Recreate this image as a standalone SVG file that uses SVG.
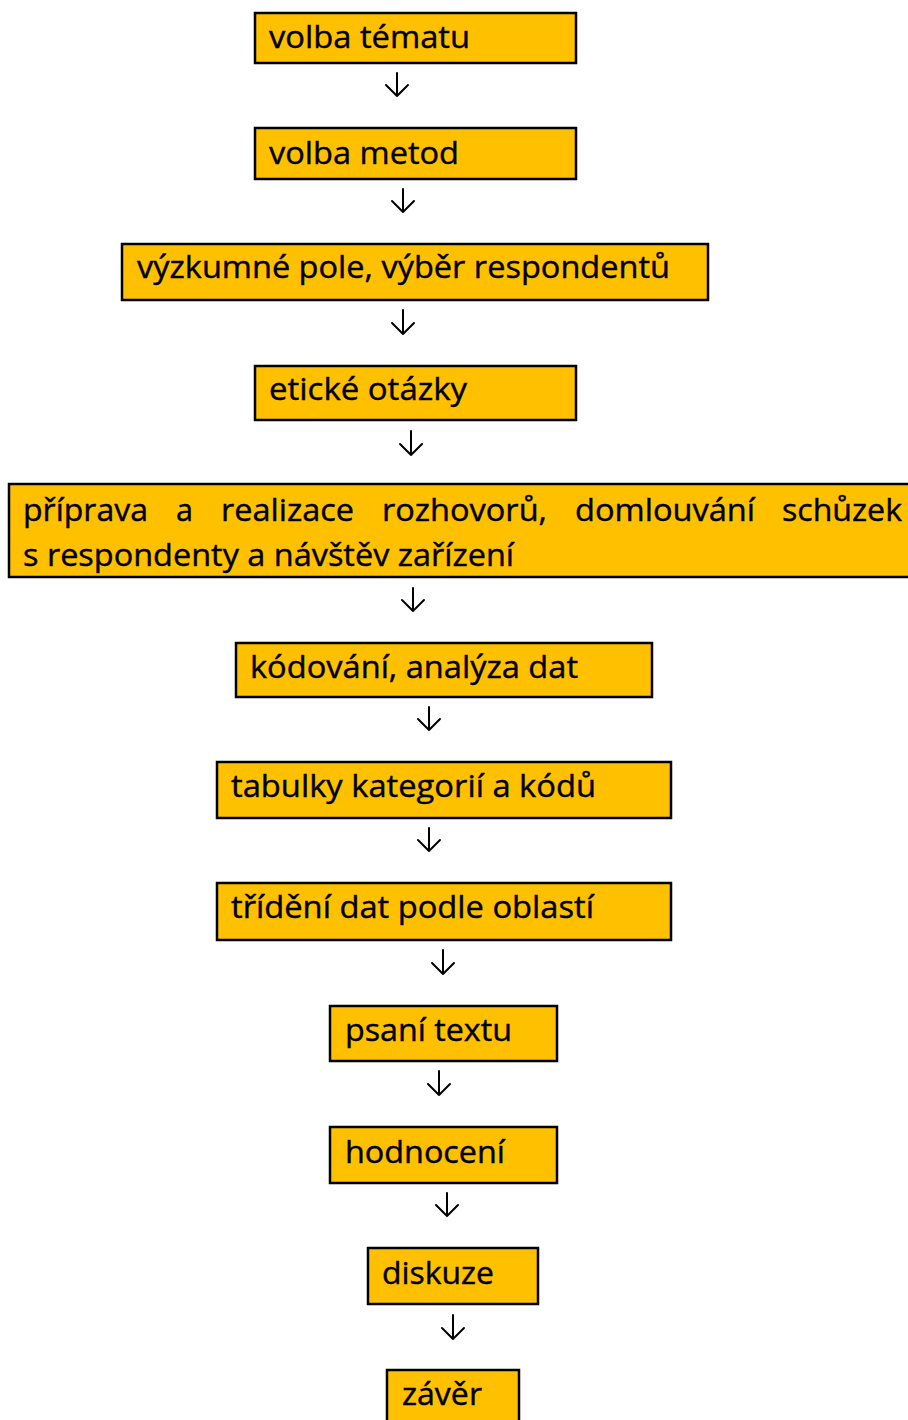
<svg xmlns="http://www.w3.org/2000/svg" width="908" height="1420" viewBox="0 0 908 1420">
<style>
.box{fill:#FFC000;stroke:#000;stroke-width:2.5}
.t{font-family:"Open Sans","Noto Sans","Liberation Sans",sans-serif;font-size:31px;fill:#000;stroke:#000;stroke-width:0.4}
.arr{fill:none;stroke:#000;stroke-width:2;stroke-linecap:round;stroke-linejoin:round}
</style>
<rect width="908" height="1420" fill="#fff"/>
<g id="n1"><rect class="box" x="255" y="13" width="321" height="50"/><text class="t" x="269" y="48" textLength="201" lengthAdjust="spacingAndGlyphs">volba tématu</text></g>
<g id="n2"><rect class="box" x="255" y="128" width="321" height="51"/><text class="t" x="269" y="164" textLength="190" lengthAdjust="spacingAndGlyphs">volba metod</text></g>
<g id="n3"><rect class="box" x="122" y="244" width="586" height="56"/><text class="t" x="137" y="278" textLength="533" lengthAdjust="spacingAndGlyphs">výzkumné pole, výběr respondentů</text></g>
<g id="n4"><rect class="box" x="255" y="366" width="321" height="54"/><text class="t" x="269" y="400" textLength="198" lengthAdjust="spacingAndGlyphs">etické otázky</text></g>
<g id="n5"><rect class="box" x="9" y="484" width="905" height="93"/>
<text class="t" y="521"><tspan x="23" textLength="125" lengthAdjust="spacingAndGlyphs">příprava</tspan><tspan x="176" textLength="17" lengthAdjust="spacingAndGlyphs">a</tspan><tspan x="221" textLength="133" lengthAdjust="spacingAndGlyphs">realizace</tspan><tspan x="382" textLength="165" lengthAdjust="spacingAndGlyphs">rozhovorů,</tspan><tspan x="575" textLength="180" lengthAdjust="spacingAndGlyphs">domlouvání</tspan><tspan x="782" textLength="120" lengthAdjust="spacingAndGlyphs">schůzek</tspan></text>
<text class="t" x="23" y="566" textLength="491" lengthAdjust="spacingAndGlyphs">s respondenty a návštěv zařízení</text></g>
<g id="n6"><rect class="box" x="236" y="643" width="416" height="54"/><text class="t" x="250" y="678" textLength="328" lengthAdjust="spacingAndGlyphs">kódování, analýza dat</text></g>
<g id="n7"><rect class="box" x="217" y="762" width="454" height="56"/><text class="t" x="231" y="797" textLength="365" lengthAdjust="spacingAndGlyphs">tabulky kategorií a kódů</text></g>
<g id="n8"><rect class="box" x="217" y="883" width="454" height="57"/><text class="t" x="231" y="918" textLength="363" lengthAdjust="spacingAndGlyphs">třídění dat podle oblastí</text></g>
<g id="n9"><rect class="box" x="330" y="1006" width="227" height="55"/><text class="t" x="345" y="1041" textLength="167" lengthAdjust="spacingAndGlyphs">psaní textu</text></g>
<g id="n10"><rect class="box" x="330" y="1127" width="227" height="56"/><text class="t" x="345" y="1163" textLength="160" lengthAdjust="spacingAndGlyphs">hodnocení</text></g>
<g id="n11"><rect class="box" x="368" y="1248" width="170" height="56"/><text class="t" x="382" y="1284" textLength="112" lengthAdjust="spacingAndGlyphs">diskuze</text></g>
<g id="n12"><rect class="box" x="387" y="1370" width="132" height="60"/><text class="t" x="402" y="1405" textLength="80" lengthAdjust="spacingAndGlyphs">závěr</text></g>
<g id="connectors">
<path class="arr" d="M397 73V96M386 85L397 96L408 85"/>
<path class="arr" d="M403 189V212M392 201L403 212L414 201"/>
<path class="arr" d="M403 310V334M392 323L403 334L414 323"/>
<path class="arr" d="M411 431V455M400 444L411 455L422 444"/>
<path class="arr" d="M413 588V611M402 600L413 611L424 600"/>
<path class="arr" d="M429 707V730M418 719L429 730L440 719"/>
<path class="arr" d="M429 828V851M418 840L429 851L440 840"/>
<path class="arr" d="M443 950V974M432 963L443 974L454 963"/>
<path class="arr" d="M439 1071V1095M428 1084L439 1095L450 1084"/>
<path class="arr" d="M447 1193V1216M436 1205L447 1216L458 1205"/>
<path class="arr" d="M453 1315V1339M442 1328L453 1339L464 1328"/>
</g>
</svg>
